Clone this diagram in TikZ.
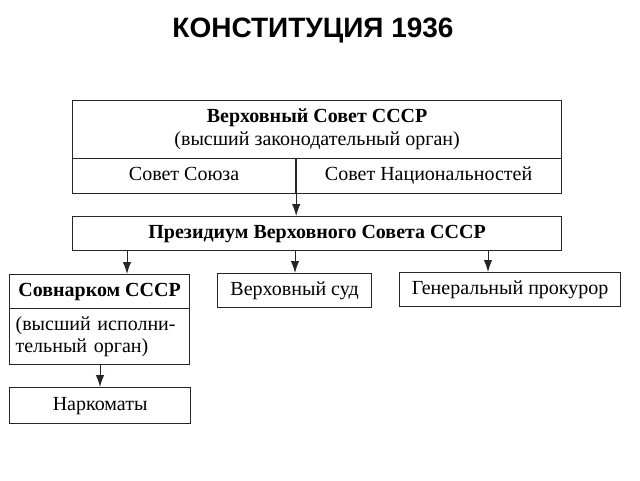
\documentclass[tikz,border=0pt]{standalone}
\usepackage{fontspec}
\setmainfont{Liberation Serif}
\newfontfamily\titlefont{Liberation Sans}
\usetikzlibrary{arrows.meta}
\tikzset{
  box/.style={draw=black!85, line width=1.2pt, anchor=north west, inner sep=0pt, align=center, font=\fontsize{20}{22}\selectfont},
  one/.style={text height=13pt, text depth=4pt},
  arr/.style={draw=black!85, line width=1pt, -{Latex[length=12pt,width=8.5pt]}},
}
\begin{document}
\begin{tikzpicture}[x=1pt,y=-1pt]
\useasboundingbox (0,0) rectangle (640,480);
\node[font=\titlefont\bfseries\fontsize{28}{32}\selectfont, anchor=base] (title) at (313,37) {КОНСТИТУЦИЯ 1936};
% Supreme Soviet
\node[box, minimum width=489pt, minimum height=58pt] (vs) at (72,100) {\textbf{Верховный Совет СССР}\\[1pt](высший законодательный орган)};
\node[box, one, minimum width=223pt, minimum height=35pt] (sl) at (72,158) {Совет Союза};
\node[box, one, minimum width=266pt, minimum height=35pt] (sn) at (295,158) {Совет Национальностей};
% Presidium
\node[box, one, minimum width=489pt, minimum height=34pt] (pres) at (72,216) {\textbf{Президиум Верховного Совета СССР}};
% Lower row
\node[box, one, minimum width=180pt, minimum height=34pt] (sov) at (9,274) {\textbf{Совнарком СССР}};
\node[box, minimum width=180pt, minimum height=56pt, text width=168pt, inner xsep=6pt, align=left, font=\fontsize{20}{22}\selectfont] (sovd) at (9,308) {(высший исполни-\\тельный орган)};
\node[box, one, minimum width=154pt, minimum height=34pt] (court) at (217,273) {Верховный суд};
\node[box, one, minimum width=221pt, minimum height=34pt] (proc) at (399,272) {Генеральный прокурор};
\node[box, one, minimum width=181pt, minimum height=36pt] (nark) at (9,387) {Наркоматы};
% Connectors
\draw[arr] (sl.north east) -- (pres.north -| sl.north east);
\draw[arr] (pres.south -| 127,0) -- (sov.north -| 127,0);
\draw[arr] (pres.south -| 295,0) -- (court.north -| 295,0);
\draw[arr] (pres.south -| 488,0) -- (proc.north -| 488,0);
\draw[arr] (sovd.south -| 100,0) -- (nark.north -| 100,0);
\end{tikzpicture}
\end{document}
